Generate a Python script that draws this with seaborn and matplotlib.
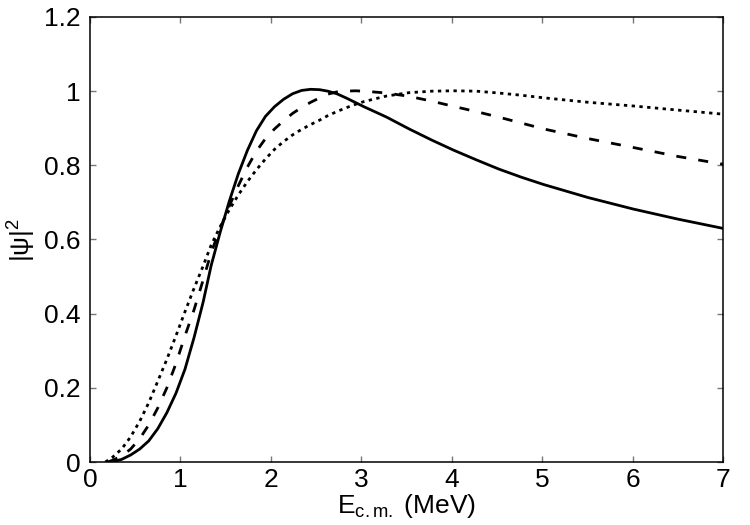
import matplotlib
matplotlib.use("Agg")
import matplotlib.pyplot as plt
import seaborn as sns
import pandas as pd

# shared energy grid (MeV) from 0.25 upward
grid = [0.25, 0.35, 0.45, 0.55, 0.65, 0.75, 0.85, 0.95, 1.05, 1.15, 1.25, 1.34,
        1.44, 1.54, 1.64, 1.74, 1.84, 1.94, 2.04, 2.14, 2.24, 2.34, 2.44, 2.54,
        2.63, 2.73, 2.83, 2.93, 3.03, 3.28, 3.53, 3.78, 4.02, 4.27, 4.52, 4.77,
        5.02, 5.51, 6.01, 6.50, 7.0]

x_solid = [0.22] + grid
solid_vals = [0.0, 0.001, 0.007, 0.019, 0.035, 0.057, 0.09, 0.133, 0.185, 0.25,
              0.335, 0.43, 0.53, 0.62, 0.703, 0.777, 0.84, 0.893, 0.932, 0.958,
              0.978, 0.993, 1.002, 1.005, 1.004, 1.0, 0.993, 0.982, 0.97, 0.958,
              0.93, 0.898, 0.868, 0.841, 0.815, 0.79, 0.768, 0.748, 0.713, 0.682,
              0.655, 0.63]

x_dashed = [0.20] + grid
dashed_vals = [0.0, 0.005, 0.016, 0.035, 0.063, 0.1, 0.146, 0.2, 0.265, 0.34,
               0.41, 0.49, 0.565, 0.63, 0.69, 0.745, 0.795, 0.838, 0.872, 0.898,
               0.92, 0.94, 0.956, 0.97, 0.982, 0.992, 0.998, 1.0, 1.001, 1.0,
               0.995, 0.986, 0.973, 0.959, 0.945, 0.93, 0.914, 0.898, 0.872,
               0.848, 0.824, 0.803]

x_dotted = [0.17] + grid
dotted_vals = [0.0, 0.013, 0.035, 0.068, 0.11, 0.16, 0.218, 0.277, 0.34, 0.405,
               0.468, 0.528, 0.585, 0.635, 0.68, 0.72, 0.756, 0.788, 0.817, 0.843,
               0.864, 0.882, 0.897, 0.91, 0.922, 0.934, 0.945, 0.955, 0.964, 0.972,
               0.987, 0.996, 1.0, 1.001, 1.0, 0.995, 0.989, 0.982, 0.97, 0.96,
               0.949, 0.938]

x_ticks = [0, 1, 2, 3, 4, 5, 6, 7]
y_ticks = [0, 0.2, 0.4, 0.6, 0.8, 1.0, 1.2]
y_ticklabels = ["0", "0.2", "0.4", "0.6", "0.8", "1", "1.2"]

sns.set_style("ticks")
plt.rcParams["font.family"] = ["Liberation Sans", "DejaVu Sans"]
plt.rcParams["mathtext.fontset"] = "custom"
plt.rcParams["mathtext.rm"] = "Liberation Sans"
plt.rcParams["mathtext.it"] = "Liberation Sans"
plt.rcParams["mathtext.default"] = "regular"
plt.rcParams["text.color"] = "black"
plt.rcParams["axes.labelcolor"] = "black"
plt.rcParams["xtick.color"] = "#777777"
plt.rcParams["ytick.color"] = "#777777"
plt.rcParams["xtick.labelcolor"] = "black"
plt.rcParams["ytick.labelcolor"] = "black"

fig = plt.figure(figsize=(7.5, 5.25), dpi=100)
ax = fig.add_axes([90/750, 63/525, 633/750, 445/525])

series = [
    (x_solid, solid_vals, "-"),
    (x_dashed, dashed_vals, (0, (3.6, 4.4))),
    (x_dotted, dotted_vals, (0, (1.2, 1.6))),
]
for xs, vals, ls in series:
    df = pd.DataFrame({"x": xs, "y": vals})
    sns.lineplot(data=df, x="x", y="y", ax=ax, color="black", linewidth=2,
                 linestyle=ls, sort=False)

ax.set_xlim(0, 7)
ax.set_ylim(0, 1.2)
ax.set_xticks(x_ticks)
ax.set_yticks(y_ticks)
ax.set_yticklabels(y_ticklabels)
ax.tick_params(direction="in", top=True, right=True, length=4.5, width=1,
               labelsize=19)
ax.tick_params(axis="x", pad=4)
ax.tick_params(axis="y", pad=7)
for s in ax.spines.values():
    s.set_linewidth(1.1)
    s.set_color("black")
ax.set_xlabel(r"E$_{\rm c.m.}$ (MeV)", fontsize=19, labelpad=0)
ax.set_ylabel("|ψ|$^2$", fontsize=19, labelpad=4)

fig.savefig("out.png", dpi=100)
